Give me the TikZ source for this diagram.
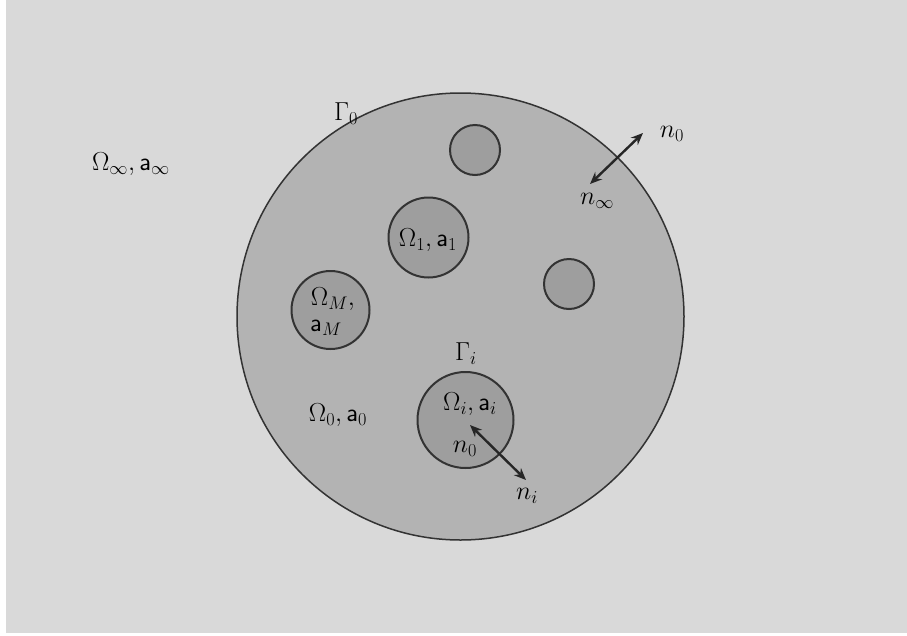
\RequirePackage{fix-cm}
\documentclass[tikz,border=0pt]{standalone}
\usetikzlibrary{arrows.meta}
\definecolor{bgc}{HTML}{D9D9D9}
\definecolor{bigc}{HTML}{B3B3B3}
\definecolor{smc}{HTML}{9E9E9E}
\definecolor{edgec}{HTML}{333333}
\begin{document}
\begin{tikzpicture}[x=1pt,y=-1pt,
  big/.style={circle,draw=edgec,fill=bigc,line width=1.5pt,inner sep=0pt,minimum size=447pt},
  small/.style={circle,draw=edgec,fill=smc,line width=2pt,inner sep=0pt},
  lbl/.style={inner sep=0pt,font=\fontsize{26}{30}\selectfont},
  dbl/.style={{Stealth[length=12pt,width=10pt]}-{Stealth[length=12pt,width=10pt]},line width=2.4pt,draw=black!85}]
\useasboundingbox (0,0) rectangle (907,635);
\fill[bgc] (6,0) rectangle (907,633);
\node[big] (G0) at (460.5,316.5) {};
\node[small,minimum size=50pt] (c1) at (475,150) {};
\node[small,minimum size=80pt] (c2) at (428.5,237.5) {};
\node[small,minimum size=78pt] (c3) at (330.5,310) {};
\node[small,minimum size=50pt] (c4) at (569,284) {};
\node[small,minimum size=96pt] (c5) at (465.5,420) {};
\node[lbl] (tG0) at (346,114) {$\Gamma_0$};
\node[lbl] (tGi) at (466,354) {$\Gamma_i$};
\node[lbl] (tinf) at (131,164) {$\Omega_\infty,\mathsf{a}_\infty$};
\node[lbl] (t0) at (338,415) {$\Omega_0,\mathsf{a}_0$};
\node[lbl] (t1) at (428,240) {$\Omega_1,\mathsf{a}_1$};
\node[lbl] (tM1) at (333,299) {$\Omega_M,$};
\node[lbl] (tM2) at (326,328) {$\mathsf{a}_M$};
\node[lbl] (ti) at (470,404) {$\Omega_i,\mathsf{a}_i$};
\node[lbl] (tn0i) at (465,449) {$n_0$};
\node[lbl] (tni) at (527,496) {$n_i$};
\node[lbl] (tn0) at (672,134) {$n_0$};
\node[lbl] (tninf) at (597,201) {$n_\infty$};
\coordinate (a1s) at (590,184);
\coordinate (a1e) at (643,133);
\coordinate (a2s) at (470,425);
\coordinate (a2e) at (526,480);
\draw[dbl] (a1s) -- (a1e);
\draw[dbl] (a2s) -- (a2e);
\end{tikzpicture}
\end{document}
